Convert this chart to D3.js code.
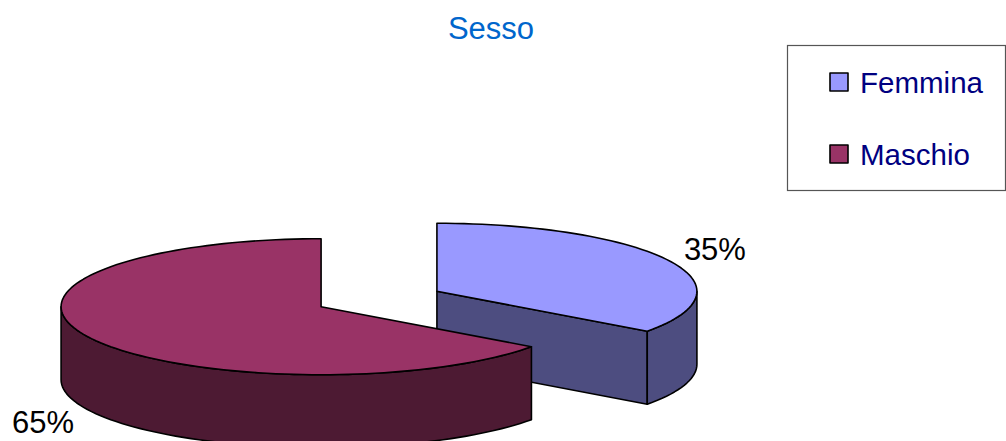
<!DOCTYPE html>
<html>
<head>
<meta charset="utf-8">
<script src="https://cdn.jsdelivr.net/npm/d3@7"></script>
<style>
  html, body { margin: 0; padding: 0; background: #fff; }
  svg { display: block; }
  text { font-family: "Liberation Sans", Arial, sans-serif; }
</style>
</head>
<body>
<svg id="chart" width="1006" height="441"></svg>
<script>
// ---- data ----
const title = "Sesso";
const categories = ["Femmina", "Maschio"];
const values = [35, 65];
const topColors = ["#9999FF", "#993366"];
const sideColors = ["#4D4D80", "#4D1A33"];

// ---- layout ----
const cx = 379, cy = 299;      // pie centre (before explosion)
const rx = 260, ry = 68;       // ellipse radii
const depth = 73;              // thickness
const explode = 65;            // explosion distance (in rx units)
const k = ry / rx;

const svg = d3.select("#chart");

const pie = d3.pie().sort(null).value(d => d.value).startAngle(0).endAngle(2 * Math.PI);
const arcs = pie(categories.map((c, i) => ({ name: c, value: values[i], i })));

function pt(c, a, r, dz) {
  return [c[0] + r * Math.sin(a), c[1] - r * k * Math.cos(a) + (dz || 0)];
}
function arcPts(c, a0, a1, dz) {
  const n = Math.max(2, Math.ceil(Math.abs(a1 - a0) / (Math.PI / 90)));
  const out = [];
  for (let j = 0; j <= n; j++) {
    const a = a0 + (a1 - a0) * j / n;
    out.push(pt(c, a, rx, dz));
  }
  return out;
}
const line = d3.line();

function styled(sel, fill) {
  return sel.attr("fill", fill).attr("stroke", "#000")
    .attr("stroke-width", 1.6).attr("stroke-linejoin", "round");
}

const g = svg.append("g");

arcs.forEach(d => {
  const mid = (d.startAngle + d.endAngle) / 2;
  const c = [cx + explode * Math.sin(mid), cy - explode * k * Math.cos(mid)];
  const a0 = d.startAngle, a1 = d.endAngle;
  const sg = g.append("g");
  const side = sideColors[d.data.i];

  // radial wall at start angle
  if (Math.sin(a0) < -1e-6) {
    const p = pt(c, a0, rx);
    styled(sg.append("path").attr("d", line([c, p, [p[0], p[1] + depth], [c[0], c[1] + depth]]) + "Z"), side);
  }
  // radial wall at end angle
  if (Math.sin(a1) > 1e-6) {
    const p = pt(c, a1, rx);
    styled(sg.append("path").attr("d", line([c, p, [p[0], p[1] + depth], [c[0], c[1] + depth]]) + "Z"), side);
  }
  // outer wall: visible in front half
  const b0 = Math.max(a0, Math.PI / 2), b1 = Math.min(a1, 3 * Math.PI / 2);
  if (b1 > b0) {
    const top = arcPts(c, b0, b1, 0);
    const bot = arcPts(c, b1, b0, depth);
    styled(sg.append("path").attr("d", line(top.concat(bot)) + "Z"), side);
  }
  // top face
  const topPts = [c].concat(arcPts(c, a0, a1, 0));
  styled(sg.append("path").attr("d", line(topPts) + "Z"), topColors[d.data.i]);

  // label
  const lp = pt(c, mid, rx * 1.2, Math.cos(mid) < 0 ? depth + 5 : -5);
  const pct = Math.round(d.value / d3.sum(values) * 100) + "%";
  svg.append("text").attr("x", lp[0]).attr("y", lp[1]).attr("dy", "0.35em")
    .attr("text-anchor", "middle").attr("font-size", 31).attr("fill", "#000").text(pct);
});

// title
svg.append("text").attr("x", 491).attr("y", 39).attr("text-anchor", "middle")
  .attr("font-size", 31).attr("fill", "#0066CC").text(title);

// legend
const lg = svg.append("g");
lg.append("rect").attr("x", 787.5).attr("y", 45.5).attr("width", 218).attr("height", 145)
  .attr("fill", "#fff").attr("stroke", "#555").attr("stroke-width", 1.2);
categories.forEach((c, i) => {
  const y = 82 + i * 72;
  styled(lg.append("rect").attr("x", 830).attr("y", y - 9).attr("width", 18).attr("height", 18), topColors[i]);
  lg.append("text").attr("x", 860).attr("y", y).attr("dy", "0.36em")
    .attr("font-size", 29.5).attr("fill", "#000080").text(c);
});
</script>
</body>
</html>
